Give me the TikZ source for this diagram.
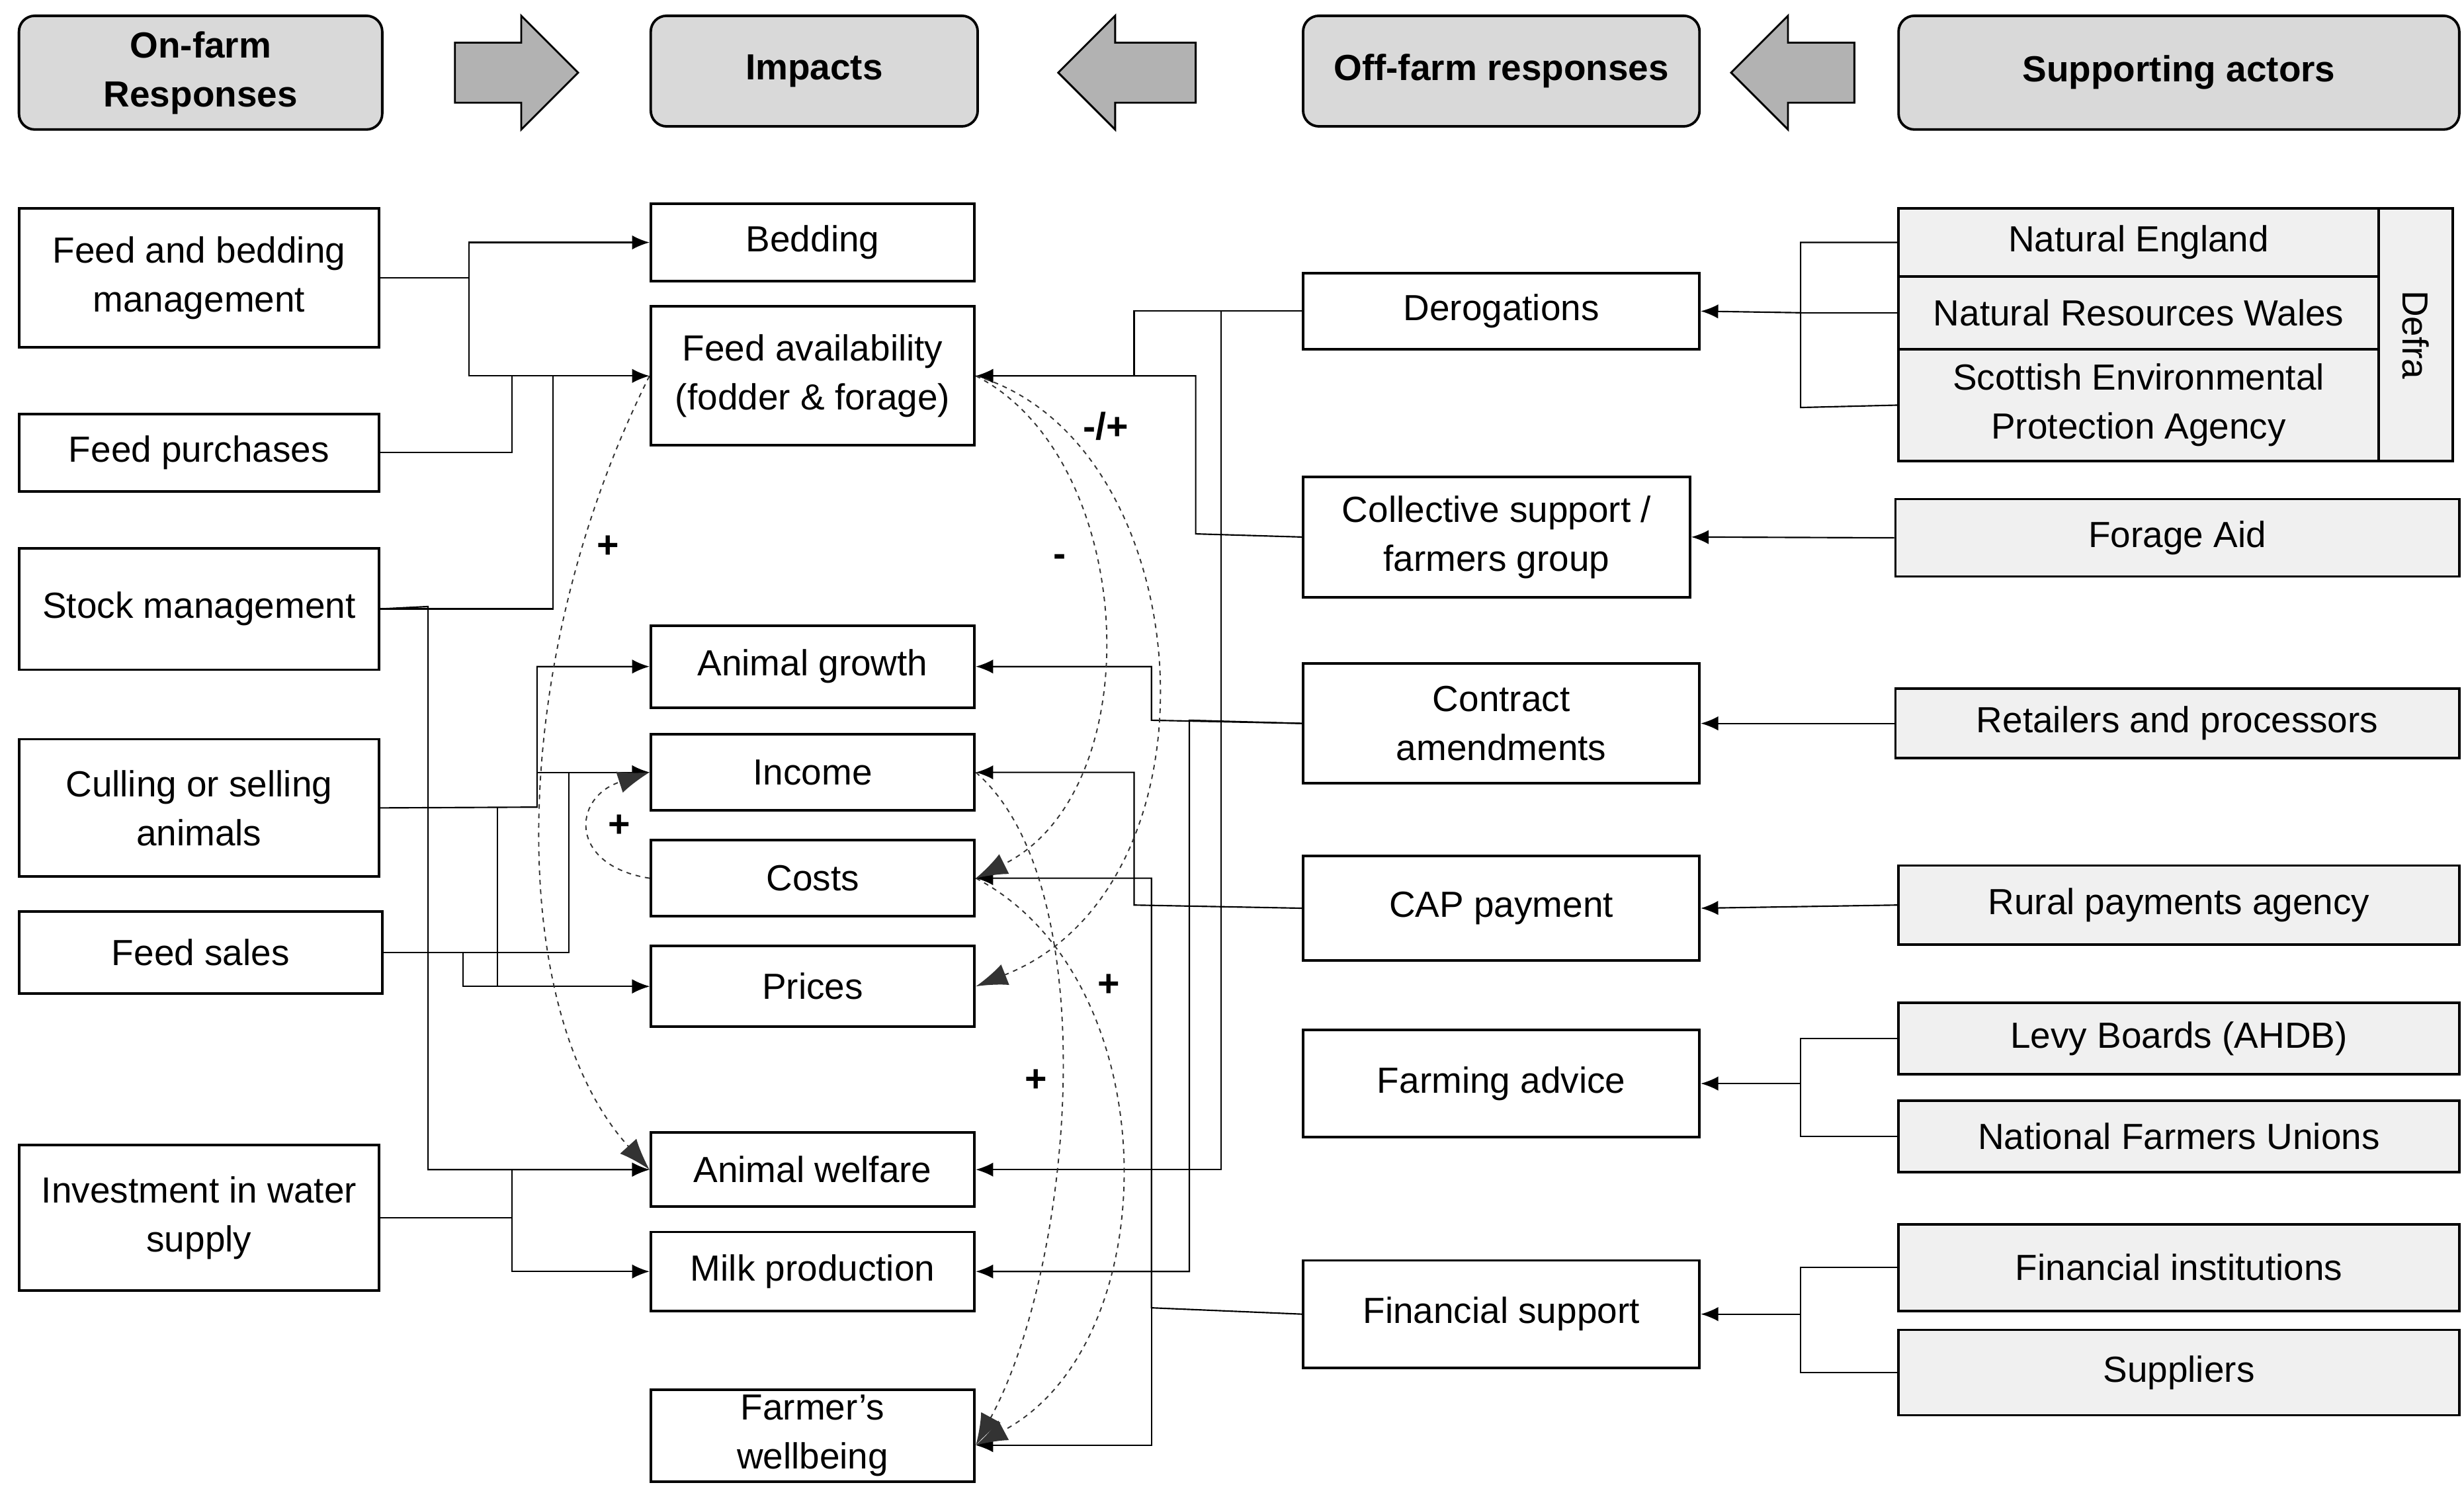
\documentclass[tikz,border=0pt]{standalone}
\usepackage{fontspec}
\setmainfont{Liberation Sans}
\usetikzlibrary{arrows.meta}
\tikzset{
  box/.style={draw, line width=1.6pt, inner sep=0pt, align=center, font=\fontsize{23}{31}\selectfont},
  head/.style={box, rounded corners=10pt, fill=gray!30, font=\fontsize{23}{31}\selectfont\bfseries},
  actor/.style={box, fill=gray!12},
  conn/.style={line width=0.9pt, -{Latex[length=11pt,width=9pt]}},
  plain/.style={line width=0.9pt},
  dcurve/.style={dashed, line width=0.8pt, gray!40!black, -{Latex[length=20pt,width=14pt]}},
  sign/.style={font=\fontsize{24}{24}\selectfont\bfseries},
  block/.style={draw, line width=1.2pt, fill=gray!60}
}
\begin{document}
\begin{tikzpicture}[x=1pt,y=-1pt]
\useasboundingbox (0,0) rectangle (1560,940);
% Headers
\node[head, minimum width=230pt, minimum height=72pt] (hon) at (127,46) {On-farm\\Responses};
\node[head, minimum width=207pt, minimum height=70pt] (himp) at (515.5,45) {Impacts};
\node[head, minimum width=251pt, minimum height=70pt] (hoff) at (950.5,45) {Off-farm responses};
\node[head, minimum width=355pt, minimum height=72pt] (hsup) at (1379.5,46) {Supporting actors};
\draw[block] (288,27) -- (330,27) -- (330,10) -- (366,46) -- (330,82) -- (330,65) -- (288,65) -- cycle;
\draw[block] (757,27) -- (706,27) -- (706,10) -- (670,46) -- (706,82) -- (706,65) -- (757,65) -- cycle;
\draw[block] (1174,27) -- (1132,27) -- (1132,10) -- (1096,46) -- (1132,82) -- (1132,65) -- (1174,65) -- cycle;

% On-farm responses
\node[box, minimum width=228pt, minimum height=88pt] (fbm) at (126,176) {Feed and bedding\\management};
\node[box, minimum width=228pt, minimum height=49pt] (fpur) at (126,286.5) {Feed purchases};
\node[box, minimum width=228pt, minimum height=77pt] (stock) at (126,385.5) {Stock management};
\node[box, minimum width=228pt, minimum height=87pt] (cull) at (126,511.5) {Culling or selling\\animals};
\node[box, minimum width=230pt, minimum height=52pt] (fsal) at (127,603) {Feed sales};
\node[box, minimum width=228pt, minimum height=92pt] (water) at (126,771) {Investment in water\\supply};

% Impacts
\node[box, minimum width=205pt, minimum height=49pt] (bed) at (514.5,153.5) {Bedding};
\node[box, minimum width=205pt, minimum height=88pt] (feed) at (514.5,238) {Feed availability\\(fodder \& forage)};
\node[box, minimum width=205pt, minimum height=52pt] (grow) at (514.5,422) {Animal growth};
\node[box, minimum width=205pt, minimum height=48pt] (inc) at (514.5,489) {Income};
\node[box, minimum width=205pt, minimum height=48pt] (cost) at (514.5,556) {Costs};
\node[box, minimum width=205pt, minimum height=51pt] (price) at (514.5,624.5) {Prices};
\node[box, minimum width=205pt, minimum height=47pt] (welf) at (514.5,740.5) {Animal welfare};
\node[box, minimum width=205pt, minimum height=50pt] (milk) at (514.5,805) {Milk production};
\node[box, minimum width=205pt, minimum height=58pt] (well) at (514.5,909) {Farmer's\\wellbeing};

% Off-farm responses
\node[box, minimum width=251pt, minimum height=48pt] (derog) at (950.5,197) {Derogations};
\node[box, minimum width=245pt, minimum height=76pt] (coll) at (947.5,340) {Collective support /\\farmers group};
\node[box, minimum width=251pt, minimum height=76pt] (contr) at (950.5,458) {Contract\\amendments};
\node[box, minimum width=251pt, minimum height=66pt] (cap) at (950.5,575) {CAP payment};
\node[box, minimum width=251pt, minimum height=68pt] (adv) at (950.5,686) {Farming advice};
\node[box, minimum width=251pt, minimum height=68pt] (fin) at (950.5,832) {Financial support};

% Supporting actors
\node[actor, minimum width=304pt, minimum height=43pt] (ne) at (1354,153.5) {Natural England};
\node[actor, minimum width=304pt, minimum height=46pt] (nrw) at (1354,198) {Natural Resources Wales};
\node[actor, minimum width=304pt, minimum height=71pt] (sepa) at (1354,256.5) {Scottish Environmental\\Protection Agency};
\node[actor, minimum width=47pt, minimum height=160pt] (defra) at (1529.5,212) {};
\node[font=\fontsize{23}{28}\selectfont, rotate=-90] (defrat) at (defra.center) {Defra};
\node[actor, minimum width=357pt, minimum height=49pt] (fa) at (1378.5,340.5) {Forage Aid};
\node[actor, minimum width=357pt, minimum height=44pt] (ret) at (1378.5,458) {Retailers and processors};
\node[actor, minimum width=355pt, minimum height=50pt] (rpa) at (1379.5,573) {Rural payments agency};
\node[actor, minimum width=355pt, minimum height=45pt] (levy) at (1379.5,657.5) {Levy Boards (AHDB)};
\node[actor, minimum width=355pt, minimum height=45pt] (nfu) at (1379.5,719.5) {National Farmers Unions};
\node[actor, minimum width=355pt, minimum height=55pt] (fi) at (1379.5,802.5) {Financial institutions};
\node[actor, minimum width=355pt, minimum height=54pt] (sup) at (1379.5,869) {Suppliers};

% On-farm to impacts
\draw[conn] (fbm.east) -- (297,176) |- (bed.west);
\draw[conn] (297,176) |- (feed.west);
\draw[plain] (fpur.east) -| (324,238);
\draw[plain] (stock.east) -| (350,238);
\draw[conn] (stock.east) -- (271,384) |- (welf.west);
\draw[conn] (cull.east) -- (340,511) |- (grow.west);
\draw[conn] (340,511) |- (inc.west);
\draw[conn] (315,511) |- (price.west);
\draw[conn] (fsal.east) -- (360,603) |- (inc.west);
\draw[conn] (fsal.east) -- (293,603) |- (price.west);
\draw[conn] (water.east) -- (324,771) |- (welf.west);
\draw[conn] (324,771) |- (milk.west);

% Off-farm to impacts
\draw[conn] (derog.west) -- (718,197) |- (feed.east);
\draw[conn] (derog.west) -- (773,197) |- (welf.east);
\draw[conn] (coll.west) -- (757,338) |- (feed.east);
\draw[conn] (contr.west) -- (729,456) |- (grow.east);
\draw[conn] (contr.west) -- (753,456) |- (milk.east);
\draw[conn] (cap.west) -- (718,573) |- (inc.east);
\draw[conn] (fin.west) -- (729,828) |- (cost.east);
\draw[conn] (729,828) |- ([yshift=-6pt]well.east);

% Supporting actors to off-farm
\draw[conn] (1140,198) -- (derog.east);
\draw[plain] (ne.west) -| (1140,258) -- (sepa.west);
\draw[plain] (nrw.west) -- (1140,198);
\draw[conn] (fa.west) -- (coll.east);
\draw[conn] (ret.west) -- (contr.east);
\draw[conn] (rpa.west) -- (cap.east);
\draw[plain] (levy.west) -| (1140,719.5) -- (nfu.west);
\draw[conn] (1140,686) -- (adv.east);
\draw[plain] (fi.west) -| (1140,869) -- (sup.west);
\draw[conn] (1140,832) -- (fin.east);

% Causal links
\draw[dcurve] (feed.west) .. controls (320,420) and (320,640) .. (welf.west);
\draw[dcurve] (cost.west) .. controls (360,548) and (362,505) .. (inc.west);
\draw[dcurve] (feed.east) .. controls (720,290) and (730,500) .. (cost.east);
\draw[dcurve] (feed.east) .. controls (760,280) and (780,560) .. (price.east);
\draw[dcurve] (inc.east) .. controls (700,560) and (680,800) .. ([yshift=-6pt]well.east);
\draw[dcurve] (cost.east) .. controls (740,620) and (740,850) .. ([yshift=-6pt]well.east);
\node[sign] (s1) at (385,346) {+};
\node[sign] (s2) at (392,523) {+};
\node[sign] (s3) at (671,355) {-};
\node[sign] (s4) at (700,270) {-/+};
\node[sign] (s5) at (702,624) {+};
\node[sign] (s6) at (656,684) {+};
\end{tikzpicture}
\end{document}
